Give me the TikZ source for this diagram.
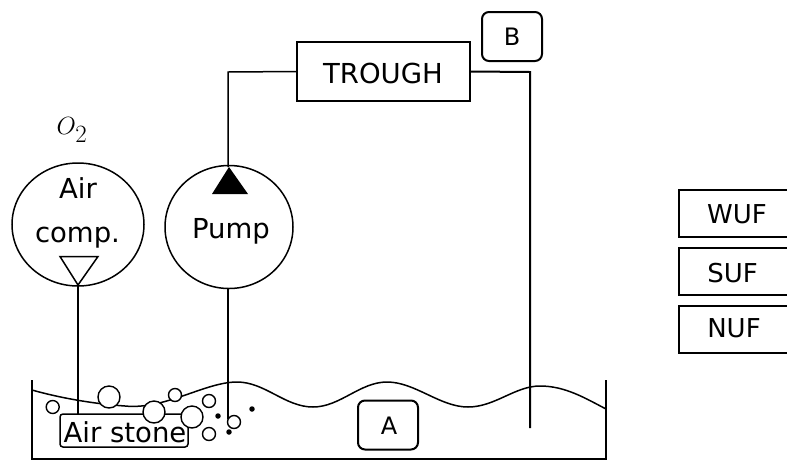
\documentclass[tikz,border=0pt]{standalone}
\usepackage{fontspec}
\usetikzlibrary{shapes.geometric}
\setmainfont{DejaVu Sans}
\begin{document}
\begin{tikzpicture}[x=1pt,y=-1pt,
  line/.style={draw=black,line width=2pt},
  thin line/.style={draw=black,line width=1.5pt},
  unit/.style={draw=black,line width=1.5pt,ellipse,inner sep=0pt,align=center},
  box/.style={draw=black,line width=2.2pt,minimum width=173pt,minimum height=59pt,inner sep=0pt},
  tag/.style={draw=black,line width=2pt,rounded corners=7pt,minimum width=60pt,minimum height=49pt,inner sep=0pt},
  ufbox/.style={line width=2pt},
  txt/.style={inner sep=0pt,anchor=base,font=\fontsize{27.5}{33}\selectfont},
  uflabel/.style={inner sep=0pt,anchor=base,font=\fontsize{26}{31}\selectfont},
  taglabel/.style={inner sep=0pt,anchor=base,font=\fontsize{24}{29}\selectfont},
  big/.style={draw=black,fill=white,line width=1.4pt,circle,minimum size=22pt,inner sep=0pt},
  small/.style={draw=black,fill=white,line width=1.4pt,circle,minimum size=13pt,inner sep=0pt},
  speck/.style={fill=black,circle,minimum size=5.5pt,inner sep=0pt}
]
\useasboundingbox (0,0) rectangle (787,459);
\node[unit,minimum width=132pt,minimum height=123pt] (air) at (78,224.5) {};
\node[unit,minimum width=128pt,minimum height=123pt] (pump) at (229,227) {};
\node[txt] (airl) at (78,198) {Air};
\node[txt] (compl) at (77.5,242) {comp.};
\node[txt] (pumpl) at (231,238) {Pump};
\node[inner sep=0pt,font=\fontsize{36}{43}\selectfont] (o2) at (72,130) {$O_2$};
\node[box] (trough) at (383.5,71.5) {};
\node[txt] (troughl) at (383,83) {TROUGH};
\node[tag] (b) at (512,36.5) {};
\node[taglabel] (bl) at (512,45) {B};
\node[tag] (a) at (388,425) {};
\node[taglabel] (al) at (389,434) {A};
\coordinate (pumpt) at (229,167);
\coordinate (corner) at (228,72);
\coordinate (rcorner) at (530,72);
\coordinate (rend) at (530,428);
\coordinate (pumpb) at (228,288);
\coordinate (pumpe) at (228,419);
\coordinate (airtip) at (78,285);
\coordinate (airend) at (78,414);
\draw[thin line] (228,167) -- (corner) -- (trough.west);
\draw[line] (trough.east) -- (rcorner) -- (rend);
\fill[black] (212,194) -- (248,194) -- (pumpt) -- cycle;
\draw[thin line] (60,256.5) -- (98,256.5) -- (airtip) -- cycle;
\draw[line] (airtip) -- (airend);
\draw[thin line] (pumpb) -- (pumpe);
% water
\draw[thin line] (32,390) .. controls (60,398) and (95,404) .. (125,406)
  .. controls (165,410) and (205,382) .. (237,382)
  .. controls (265,382) and (285,407) .. (313,407)
  .. controls (340,407) and (360,382) .. (387,382)
  .. controls (415,382) and (440,407) .. (468,407)
  .. controls (495,407) and (515,386) .. (540,386)
  .. controls (565,386) and (585,398) .. (606,409);
% tank
\draw[line] (32,380) -- (32,458.5) -- (606,458.5) -- (606,380);
\node[draw=black,line width=1.5pt,rounded corners=3pt,fill=white,minimum width=128pt,minimum height=33pt,inner sep=0pt] (stone) at (124,430.5) {};
\node[small] (c1) at (52.7,407) {};
\node[big] (c2) at (109,397) {};
\node[big] (c3) at (154,412) {};
\node[small] (c4) at (175,395) {};
\node[big] (c5) at (192,417) {};
\node[small] (c6) at (209,401) {};
\node[small] (c7) at (209,434) {};
\node[small] (c8) at (234,422) {};
\node[speck] (d1) at (218,416) {};
\node[speck] (d2) at (252,409) {};
\node[speck] (d3) at (229,432) {};
\node[txt] (stonel) at (125,442) {Air stone};
% side boxes
\draw[ufbox] (787,190) -- (679,190) -- (679,237) -- (787,237);
\draw[ufbox] (787,248) -- (679,248) -- (679,295) -- (787,295);
\draw[ufbox] (787,306) -- (679,306) -- (679,353) -- (787,353);
\node[uflabel] (wuf) at (737,223) {WUF};
\node[uflabel] (suf) at (732.5,282) {SUF};
\node[uflabel] (nuf) at (734,337) {NUF};
\end{tikzpicture}
\end{document}
